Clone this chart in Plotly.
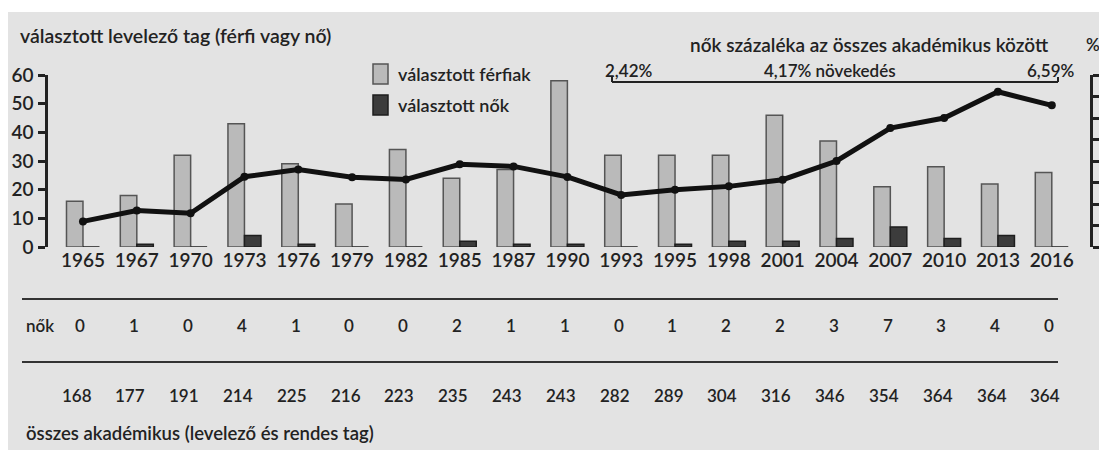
import plotly.graph_objects as go

years = ["1965", "1967", "1970", "1973", "1976", "1979", "1982", "1985", "1987", "1990",
         "1993", "1995", "1998", "2001", "2004", "2007", "2010", "2013", "2016"]
ferfiak = [16, 18, 32, 43, 29, 15, 34, 24, 27, 58, 32, 32, 32, 46, 37, 21, 28, 22, 26]
nok = [0, 1, 0, 4, 1, 0, 0, 2, 1, 1, 0, 1, 2, 2, 3, 7, 3, 4, 0]
osszes = [168, 177, 191, 214, 225, 216, 223, 235, 243, 243, 282, 289, 304, 316, 346, 354, 364, 364, 364]
nok_szazalek = [1.19, 1.70, 1.57, 3.27, 3.60, 3.24, 3.14, 3.85, 3.75, 3.26,
                2.42, 2.66, 2.82, 3.13, 4.00, 5.53, 6.00, 7.22, 6.59]

FONT = "Lato, Roboto, sans-serif"
W = 600
TXT = "#222222"
BG = "#e3e3e3"

# page pixel -> paper coords (plot area on the page: x 48..1090, y 75..247)
def px(x):
    return (x - 48) / 1042

def py(y):
    return (247 - y) / 172

idx = list(range(len(years)))

fig = go.Figure()
fig.add_trace(go.Bar(x=idx, y=ferfiak, name="választott férfiak",
                     marker=dict(color="#bababa", line=dict(color="#555555", width=1.5)),
                     showlegend=False))
fig.add_trace(go.Bar(x=idx, y=nok, name="választott nők",
                     marker=dict(color="#3c3c3c", line=dict(color="#1e1e1e", width=1.5)),
                     showlegend=False))
fig.add_trace(go.Scatter(x=idx, y=nok_szazalek, yaxis="y2", mode="lines+markers",
                         line=dict(color="#111111", width=5),
                         marker=dict(color="#111111", size=8),
                         showlegend=False))

def fmt(v):
    return ("%.2f" % v).replace(".", ",") + "%"

def txt(x, y, s, size=18, anchor="left", xref="paper"):
    return dict(x=x, y=y, xref=xref, yref="paper", xanchor=anchor, yanchor="middle",
                text=s, showarrow=False, font=dict(size=size, color=TXT, family=FONT, weight=W))

ann = [
    txt(px(18), py(35), "választott levelező tag (férfi vagy nő)", 19.5),
    txt(px(688), py(45), "nők százaléka az összes akadémikus között", 19),
    txt(px(1093), py(45), "%", 17, "center"),
    txt(px(603), py(71), fmt(nok_szazalek[10]), 17),
    txt(px(830), py(71), fmt(nok_szazalek[-1] - nok_szazalek[10]) + " növekedés", 17, "center"),
    txt(px(1076), py(71), fmt(nok_szazalek[-1]), 17, "right"),
    txt(px(396), py(74), "választott férfiak", 18),
    txt(px(396), py(105), "választott nők", 18),
    txt(px(24), py(325), "nők", 17),
    txt(px(24), py(433), "összes akadémikus (levelező és rendes tag)", 18.5),
]
for i in idx:
    ann.append(txt(i - 0.05, py(325), str(nok[i]), 17, "center", "x"))
    ann.append(txt(i - 0.12, py(395), str(osszes[i]), 17, "center", "x"))

def hline(x0, x1, y, w=2, c="#222222"):
    return dict(type="line", xref="paper", yref="paper", x0=px(x0), x1=px(x1), y0=py(y), y1=py(y),
                line=dict(color=c, width=w))

shapes = [
    dict(type="rect", xref="paper", yref="paper", x0=px(8), x1=px(1120), y0=py(12), y1=py(460),
         fillcolor=BG, line=dict(width=0), layer="below"),
    hline(612, 1058, 82),
    dict(type="line", xref="paper", yref="paper", x0=px(612), x1=px(612), y0=py(82), y1=py(77),
         line=dict(color="#222222", width=2)),
    dict(type="line", xref="paper", yref="paper", x0=px(1058), x1=px(1058), y0=py(82), y1=py(77),
         line=dict(color="#222222", width=2)),
    hline(22, 1058, 299, 2, "#333333"),
    hline(22, 1058, 362, 2, "#333333"),
    # legend swatches
    dict(type="rect", xref="paper", yref="paper", x0=px(373), x1=px(388), y0=py(84), y1=py(64),
         fillcolor="#bababa", line=dict(color="#555555", width=1.5)),
    dict(type="rect", xref="paper", yref="paper", x0=px(373), x1=px(388), y0=py(115), y1=py(95),
         fillcolor="#3c3c3c", line=dict(color="#1e1e1e", width=1.5)),
]

fig.update_layout(
    template="none",
    width=1107, height=450,
    margin=dict(l=40, r=25, t=67, b=211),
    paper_bgcolor="white", plot_bgcolor=BG,
    barmode="group", bargap=0.387, bargroupgap=0,
    font=dict(family=FONT, color=TXT, weight=W),
    xaxis=dict(range=[-0.65, 18.71], tickvals=idx, ticktext=years, showgrid=False,
               zeroline=False, showline=False, ticks="", automargin=False,
               tickfont=dict(size=19, color=TXT, family=FONT, weight=W)),
    yaxis=dict(range=[0, 60], dtick=10, showgrid=False, zeroline=False, showline=True,
               linecolor="#222222", linewidth=2.5, ticks="outside", ticklen=7, tickwidth=2.5,
               tickcolor="#222222", automargin=False, ticklabelstandoff=1,
               tickfont=dict(size=19, color=TXT, family=FONT, weight=W)),
    yaxis2=dict(range=[0, 8], dtick=1, overlaying="y", side="right", showgrid=False,
                zeroline=False, showline=True, linecolor="#222222", linewidth=2.5,
                ticks="outside", ticklen=6, tickwidth=2.5, tickcolor="#222222",
                automargin=False, ticklabelstandoff=0,
                tickfont=dict(size=19, color=TXT, family=FONT, weight=W)),
    annotations=ann,
    shapes=shapes,
)

fig.write_html("out.html")
